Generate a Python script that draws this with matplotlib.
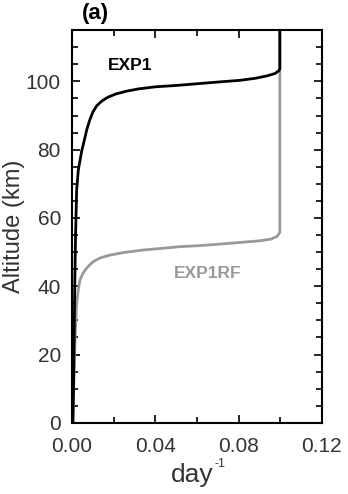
import matplotlib
matplotlib.use("Agg")
import matplotlib.pyplot as plt
from matplotlib.ticker import MultipleLocator

plt.rcParams['font.family'] = ['Liberation Sans', 'DejaVu Sans']

# EXP1 profile (rate in day^-1 vs altitude in km)
exp1_rate = [0.0004, 0.0007, 0.0010, 0.0013, 0.0017, 0.0022, 0.0030, 0.0047, 0.0060,
             0.0070, 0.0085, 0.0100, 0.0118, 0.014, 0.017, 0.021, 0.026, 0.032,
             0.040, 0.050, 0.060, 0.070, 0.0806, 0.088, 0.0936, 0.0975, 0.0995,
             0.0998, 0.0998]
exp1_alt = [0.0, 10.0, 25.0, 40.0, 55.0, 68.0, 74.0, 79.8, 83.0,
            85.7, 88.7, 91.0, 92.8, 94.1, 95.3, 96.3, 97.1, 97.8,
            98.4, 98.8, 99.3, 99.8, 100.3, 100.9, 101.6, 102.3, 103.2,
            104.0, 115.0]

# EXP1RF profile
rf_rate = [0.0004, 0.0008, 0.0012, 0.0017, 0.0022, 0.0030, 0.0038, 0.0050, 0.0062,
           0.0080, 0.0102, 0.0135, 0.018, 0.025, 0.034, 0.043, 0.052, 0.0614,
           0.072, 0.082, 0.090, 0.0955, 0.0985, 0.0998, 0.0998, 0.0998]
rf_alt = [0.0, 10.0, 20.0, 28.0, 35.0, 39.0, 41.8, 43.5, 44.7,
          46.0, 47.2, 48.3, 49.1, 49.9, 50.6, 51.1, 51.6, 51.9,
          52.4, 52.9, 53.3, 53.8, 54.6, 55.8, 104.0, 115.0]

fig = plt.figure(figsize=(3.48, 4.94), dpi=100)
ax = fig.add_axes([0.207, 0.144, 0.718, 0.795])

ax.plot(rf_rate, rf_alt, color='#999999', linewidth=2.0)
ax.plot(exp1_rate, exp1_alt, color='black', linewidth=2.0)

ax.set_xlim(0, 0.12)
ax.set_ylim(0, 115)
ax.set_xticks([0.0, 0.04, 0.08, 0.12])
ax.set_xticklabels(['0.00', '0.04', '0.08', '0.12'])
ax.xaxis.set_minor_locator(MultipleLocator(0.02))
ax.set_yticks([0, 20, 40, 60, 80, 100])
ax.yaxis.set_minor_locator(MultipleLocator(5))

ax.tick_params(axis='both', which='both', direction='in', top=True, right=True,
               labelsize=15, labelcolor='#333333', width=1.2)
ax.tick_params(which='major', length=6)
ax.tick_params(which='minor', length=4)
ax.tick_params(axis='x', pad=10)
ax.tick_params(axis='y', pad=8)
for s in ax.spines.values():
    s.set_linewidth(1.5)

ax.set_ylabel('Altitude (km)', fontsize=17, color='#333333', va='center')
ax.yaxis.set_label_coords(-0.232, 0.5)
ax.set_xlabel('day', fontsize=19, color='#333333', va='center')
ax.xaxis.set_label_coords(0.482, -0.132)
ax.text(0.572, -0.105, '-1', transform=ax.transAxes, fontsize=9, color='#333333',
        ha='left', va='center')

ax.text(0.017, 103.4, 'EXP1', fontsize=12.5, fontweight='bold', color='black')
ax.text(0.0652, 42.4, 'EXP1RF', fontsize=12.5, fontweight='bold', color='#999999',
        ha='center')
fig.text(0.275, 0.973, '(a)', fontsize=16, fontweight='bold', ha='center', va='center')

fig.savefig('out.png', dpi=100)
